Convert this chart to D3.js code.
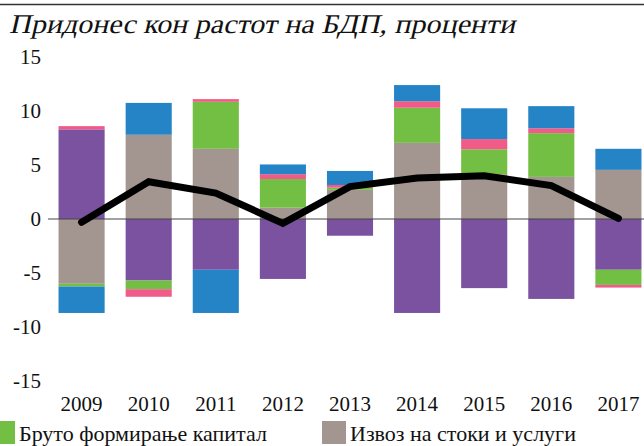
<!DOCTYPE html>
<html>
<head>
<meta charset="utf-8">
<script src="https://cdn.jsdelivr.net/npm/d3@7"></script>
<style>
	body { margin: 0; background: #fff; }
	svg { display: block; }
	text { font-family: "Liberation Serif", "DejaVu Serif", serif; fill: #111; }
</style>
</head>
<body>
<svg width="644" height="446"></svg>
<script>
var years = ["2009", "2010", "2011", "2012", "2013", "2014", "2015", "2016", "2017"];
var uvoz = [8.3, -5.7, -4.7, -5.55, -1.55, -8.7, -6.4, -7.4, -4.7];
var izvoz = [-6.0, 7.8, 6.5, 1.05, 2.7, 7.05, 4.15, 3.9, 4.55];
var kapital = [-0.25, -0.8, 4.35, 2.65, 0.2, 3.25, 2.3, 4.05, -1.4];
var zalihi = [0.3, -0.7, 0.25, 0.45, 0.25, 0.6, 0.95, 0.45, -0.25];
var potrosuvacka = [-2.45, 2.95, -4.0, 0.9, 1.3, 1.5, 2.85, 2.05, 1.95];
var bdp = [-0.3, 3.45, 2.4, -0.4, 3.0, 3.8, 4.0, 3.1, 0.05];
var yTicks = [15, 10, 5, 0, -5, -10, -15];

var keys = ["uvoz", "izvoz", "kapital", "zalihi", "potrosuvacka"];
var colors = {
	uvoz: "#7b52a0",
	izvoz: "#a39691",
	kapital: "#72bf44",
	zalihi: "#f15b87",
	potrosuvacka: "#2484c6"
};
var legendItems = [
	{ key: "kapital", label: "Бруто формирање капитал" },
	{ key: "izvoz", label: "Извоз на стоки и услуги" }
];

var rows = [];
for (var i = 0; i < years.length; i++) {
	rows.push({
		year: years[i],
		uvoz: uvoz[i],
		izvoz: izvoz[i],
		kapital: kapital[i],
		zalihi: zalihi[i],
		potrosuvacka: potrosuvacka[i],
		bdp: bdp[i]
	});
}

var svg = d3.select("svg");
var width = +svg.attr("width");

var x = d3.scaleBand()
	.domain(years)
	.range([48, 652])
	.paddingInner(0.313)
	.paddingOuter(0.157);

var y = d3.scaleLinear()
	.domain([-15, 15])
	.range([381, 57]);

// top rule and title
svg.append("line")
	.attr("x1", 0).attr("x2", width)
	.attr("y1", 4.5).attr("y2", 4.5)
	.attr("stroke", "#333")
	.attr("stroke-width", 1.5);

// no serif italic installed, so slant the upright serif face
svg.append("g")
	.attr("transform", "translate(9,33) skewX(-13)")
	.append("text")
	.attr("x", 0)
	.attr("y", 0)
	.attr("textLength", 506)
	.attr("lengthAdjust", "spacingAndGlyphs")
	.style("font-family", "Liberation Serif, serif")
	.style("font-size", "27px")
	.text("Придонес кон растот на БДП, проценти");

// y labels
var yAxis = d3.axisLeft(y).tickValues(yTicks).tickSize(0).tickPadding(0)
	.tickFormat(function(d) { return d; });
var yg = svg.append("g")
	.attr("transform", "translate(41,0)")
	.call(yAxis);
yg.select(".domain").remove();
yg.selectAll("text")
	.style("font-size", "21px")
	.style("font-family", "Liberation Serif, serif")
	.attr("fill", "#111");

// stacked bars
var stack = d3.stack().keys(keys).offset(d3.stackOffsetDiverging);
var series = stack(rows);

svg.append("g")
	.selectAll("g")
	.data(series)
	.enter().append("g")
		.attr("fill", function(d) { return colors[d.key]; })
	.selectAll("rect")
	.data(function(d) { return d; })
	.enter().append("rect")
		.attr("x", function(d) { return x(d.data.year); })
		.attr("width", x.bandwidth())
		.attr("y", function(d) { return y(Math.max(d[0], d[1])); })
		.attr("height", function(d) { return Math.abs(y(d[0]) - y(d[1])); });

// zero line
svg.append("line")
	.attr("x1", 48).attr("x2", width)
	.attr("y1", y(0)).attr("y2", y(0))
	.attr("stroke", "#444")
	.attr("stroke-width", 1.2);

// gdp line
var line = d3.line()
	.x(function(d) { return x(d.year) + x.bandwidth() / 2; })
	.y(function(d) { return y(d.bdp); });

svg.append("path")
	.datum(rows)
	.attr("d", line)
	.attr("fill", "none")
	.attr("stroke", "#000")
	.attr("stroke-width", 7)
	.attr("stroke-linecap", "round")
	.attr("stroke-linejoin", "miter");

// x labels
var xAxis = d3.axisBottom(x).tickSize(0).tickPadding(0);
var xg = svg.append("g")
	.attr("transform", "translate(0,396)")
	.call(xAxis);
xg.select(".domain").remove();
xg.selectAll("text")
	.style("font-size", "21px")
	.style("font-family", "Liberation Serif, serif")
	.attr("fill", "#111");

// legend
var legendX = [-9, 322];
var lg = svg.append("g")
	.selectAll("g")
	.data(legendItems)
	.enter().append("g")
		.attr("transform", function(d, i) { return "translate(" + legendX[i] + ",421)"; });

lg.append("rect")
	.attr("width", 24)
	.attr("height", 23)
	.attr("fill", function(d) { return colors[d.key]; });

lg.append("text")
	.attr("x", 28)
	.attr("y", 20)
	.style("font-family", "Liberation Serif, serif")
	.style("font-size", "22px")
	.text(function(d) { return d.label; });
</script>
</body>
</html>
